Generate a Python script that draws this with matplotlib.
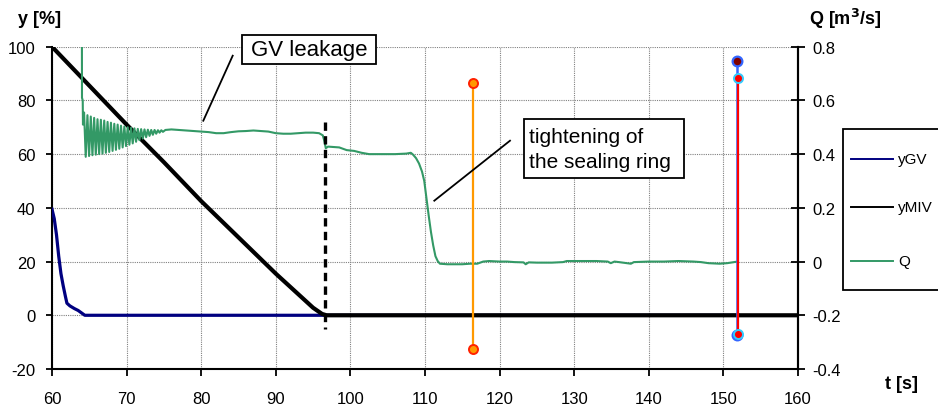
import matplotlib
matplotlib.use('Agg')
import matplotlib.pyplot as plt
from matplotlib.lines import Line2D
from matplotlib.patches import Rectangle

plt.rcParams['font.family'] = ['Liberation Sans', 'DejaVu Sans']
plt.rcParams['axes.unicode_minus'] = False

# ---------------- data ----------------
t_gv = [60.0, 60.3, 60.6, 60.9, 61.2, 61.5, 61.8, 62.0, 62.4, 63.0, 63.5, 64.0, 64.4, 152.0]
y_gv = [39.5, 36.0, 30.0, 22.0, 15.5, 11.0, 7.0, 4.5, 3.5, 2.5, 1.8, 0.8, 0.0, 0.0]

t_miv = [60.0, 65.0, 70.0, 75.0, 80.0, 85.0, 90.0, 95.0, 96.2, 96.8, 160.0]
y_miv = [100.0, 85.5, 71.0, 57.0, 42.5, 29.0, 15.5, 2.8, 0.5, 0.0, 0.0]

q_t_start = [64.00, 64.02, 64.12, 64.15]
q_start = [1.00, 0.61, 0.60, 0.51]

q_t_osc = [64.30, 64.52, 64.75, 64.97, 65.20, 65.42, 65.65, 65.87, 66.10, 66.32,
           66.55, 66.77, 67.00, 67.22, 67.45, 67.67, 67.90, 68.12, 68.35, 68.57,
           68.80, 69.02, 69.25, 69.47, 69.70, 69.92, 70.15, 70.37, 70.60, 70.82,
           71.05, 71.27, 71.50, 71.72, 71.95, 72.17, 72.40, 72.62, 72.85, 73.07,
           73.30, 73.52, 73.75, 73.97, 74.20, 74.42, 74.65, 74.87]
q_osc = [0.555, 0.390, 0.545, 0.393, 0.540, 0.396, 0.535, 0.398, 0.530, 0.400,
         0.528, 0.402, 0.525, 0.405, 0.520, 0.408, 0.517, 0.412, 0.513, 0.416,
         0.510, 0.420, 0.506, 0.425, 0.503, 0.430, 0.500, 0.435, 0.498, 0.440,
         0.496, 0.446, 0.494, 0.452, 0.493, 0.458, 0.492, 0.463, 0.491, 0.468,
         0.490, 0.472, 0.490, 0.476, 0.489, 0.480, 0.489, 0.483]

q_t_rest = [75.2, 76.0, 77.0, 78.0, 79.0, 80.0, 81.0, 82.0, 83.0, 84.0, 85.0, 86.0,
            87.0, 88.0, 89.0, 90.0, 91.0, 92.0, 93.0, 94.0, 95.0, 95.8, 96.3, 96.5,
            96.7, 97.0, 97.5, 98.5, 99.5, 100.5, 101.5, 102.5, 104.0, 106.0, 107.5,
            108.1, 108.4, 108.8, 109.2, 109.6, 109.9, 110.2, 110.5, 110.8, 111.1,
            111.4, 111.7, 112.0, 113.0, 114.0, 115.0, 116.0, 117.0, 117.8, 118.6,
            120.0, 121.0, 122.0, 123.2, 123.5, 123.9, 125.0, 127.0, 128.5, 129.0,
            131.0, 133.0, 134.5, 134.9, 135.4, 136.0, 137.6, 138.0, 140.0, 142.0,
            144.0, 146.0, 147.0, 148.0, 149.5, 150.5, 151.0, 151.9]
q_rest = [0.490, 0.492, 0.490, 0.488, 0.486, 0.484, 0.482, 0.478, 0.478, 0.482, 0.485, 0.486,
          0.488, 0.486, 0.484, 0.478, 0.476, 0.476, 0.478, 0.480, 0.480, 0.478, 0.470, 0.450,
          0.422, 0.428, 0.427, 0.425, 0.415, 0.412, 0.405, 0.400, 0.400, 0.400, 0.402,
          0.405, 0.398, 0.385, 0.365, 0.335, 0.300, 0.235, 0.170, 0.110, 0.060,
          0.020, 0.002, -0.008, -0.010, -0.010, -0.010, -0.008, -0.008, 0.000, 0.002,
          0.000, 0.000, -0.002, -0.003, -0.010, -0.003, -0.004, -0.004, -0.002, 0.002,
          0.002, 0.002, 0.000, -0.006, 0.000, -0.002, -0.008, -0.002, 0.000, 0.000,
          0.002, 0.000, -0.002, -0.006, -0.008, -0.006, -0.004, 0.000]

q_t = q_t_start + q_t_osc + q_t_rest
q_v = q_start + q_osc + q_rest

orange_t = [116.4, 116.4]
orange_q = [0.664, -0.326]
blue_t = [151.8, 151.8]
blue_q = [0.746, -0.272]
red_t = [151.95, 151.95]
red_q = [0.684, -0.270]
dash_t = [96.6, 96.6]
dash_q = [0.519, -0.252]

x_ticks = [60, 70, 80, 90, 100, 110, 120, 130, 140, 150, 160]
y_ticks = [-20, 0, 20, 40, 60, 80, 100]
q_ticks = [-0.4, -0.2, 0, 0.2, 0.4, 0.6, 0.8]
q_tick_labels = ['-0.4', '-0.2', '0', '0.2', '0.4', '0.6', '0.8']

# ---------------- figure ----------------
W, H = 938, 410
fig = plt.figure(figsize=(W / 100, H / 100), dpi=100)


def fx(px):
    return px / W


def fy(py):
    return 1 - py / H


ax = fig.add_axes([fx(52), fy(370), fx(798) - fx(52), fy(47.7) - fy(370)])
ax.set_xlim(60, 160)
ax.set_ylim(-20, 100)
ax.set_xticks(x_ticks)
ax.set_yticks(y_ticks)
ax.grid(True, color='#808080', linestyle=(0, (1, 1)), linewidth=0.8)
ax.set_axisbelow(True)
ax.spines['top'].set_visible(False)
for s in ['left', 'bottom', 'right']:
    ax.spines[s].set_linewidth(1.5)
    ax.spines[s].set_color('black')
ax.tick_params(axis='y', direction='out', length=4, width=1.3, pad=8, labelsize=12)
ax.tick_params(axis='x', direction='out', length=5, width=1.3, pad=11, labelsize=12)

ax.plot(t_gv, y_gv, color='#000080', lw=2.3, label='yGV', zorder=3)
ax.plot(t_miv, y_miv, color='black', lw=3.0, label='yMIV', zorder=4,
        solid_capstyle='projecting')

ax2 = ax.twinx()
ax2.set_ylim(-0.4, 0.8)
ax2.set_yticks(q_ticks)
ax2.set_yticklabels(q_tick_labels)
for s in ['top', 'left', 'bottom']:
    ax2.spines[s].set_visible(False)
ax2.spines['right'].set_linewidth(1.5)
ax2.tick_params(axis='y', direction='inout', length=10, width=1.3, pad=5, labelsize=12)

ax2.plot(q_t, q_v, color='#339966', lw=1.5, label='Q', zorder=3)
ax2.plot(dash_t, dash_q, color='black', lw=2.4, linestyle=(0, (2.5, 1.6)), zorder=4)
ax2.plot(orange_t, orange_q, color='#FF9900', lw=1.6, marker='o', ms=6.5,
         mfc='#FF9900', mec='#FF2200', mew=1.4, zorder=5)
ax2.plot(blue_t, blue_q, color='#3366FF', lw=1.8, marker='o', ms=7,
         mfc='#800000', mec='#3366FF', mew=1.6, zorder=5)
ax2.plot(red_t, red_q, color='#FF0000', lw=1.6, marker='o', ms=6.5,
         mfc='#FF0000', mec='#33CCFF', mew=1.4, zorder=6)

# axis titles
fig.text(fx(40), fy(20), 'y [%]', ha='center', va='center', fontsize=13, fontweight='bold')
fig.text(fx(845), fy(19), 'Q [m$^{\\mathbf{3}}$/s]', ha='center', va='center', fontsize=13,
         fontweight='bold')
fig.text(fx(901), fy(385), 't [s]', ha='center', va='center', fontsize=13, fontweight='bold')

# annotations
fig.add_artist(Line2D([fx(232.7), fx(203.3)], [fy(56.7), fy(121.7)], color='black', lw=1.3,
                      zorder=10))
fig.add_artist(Rectangle((fx(242), fy(65)), fx(376) - fx(242), fy(36) - fy(65),
                         facecolor='white', edgecolor='black', lw=1.3, zorder=11))
fig.text(fx(309), fy(50.5), 'GV leakage', ha='center', va='center', fontsize=16, zorder=12)

fig.add_artist(Line2D([fx(510), fx(434.3)], [fy(141.7), fy(201.7)], color='black', lw=1.3,
                      zorder=10))
fig.add_artist(Rectangle((fx(524), fy(179)), fx(684) - fx(524), fy(120) - fy(179),
                         facecolor='white', edgecolor='black', lw=1.3, zorder=11))
fig.text(fx(529), fy(150), 'tightening of\nthe sealing ring', ha='left', va='center',
         fontsize=15, linespacing=1.4, zorder=12)

# legend (manual frame)
fig.add_artist(Rectangle((fx(843), fy(291)), fx(960) - fx(843), fy(130) - fy(291),
                         facecolor='white', edgecolor='black', lw=1.3, zorder=11))
leg_items = [('yGV', '#000080', 160), ('yMIV', 'black', 208), ('Q', '#339966', 262)]
for name, col, py in leg_items:
    fig.add_artist(Line2D([fx(851), fx(893)], [fy(py), fy(py)], color=col, lw=1.4, zorder=12))
    fig.text(fx(898), fy(py), name, ha='left', va='center', fontsize=11, zorder=12)

fig.savefig('out.png', dpi=100)
